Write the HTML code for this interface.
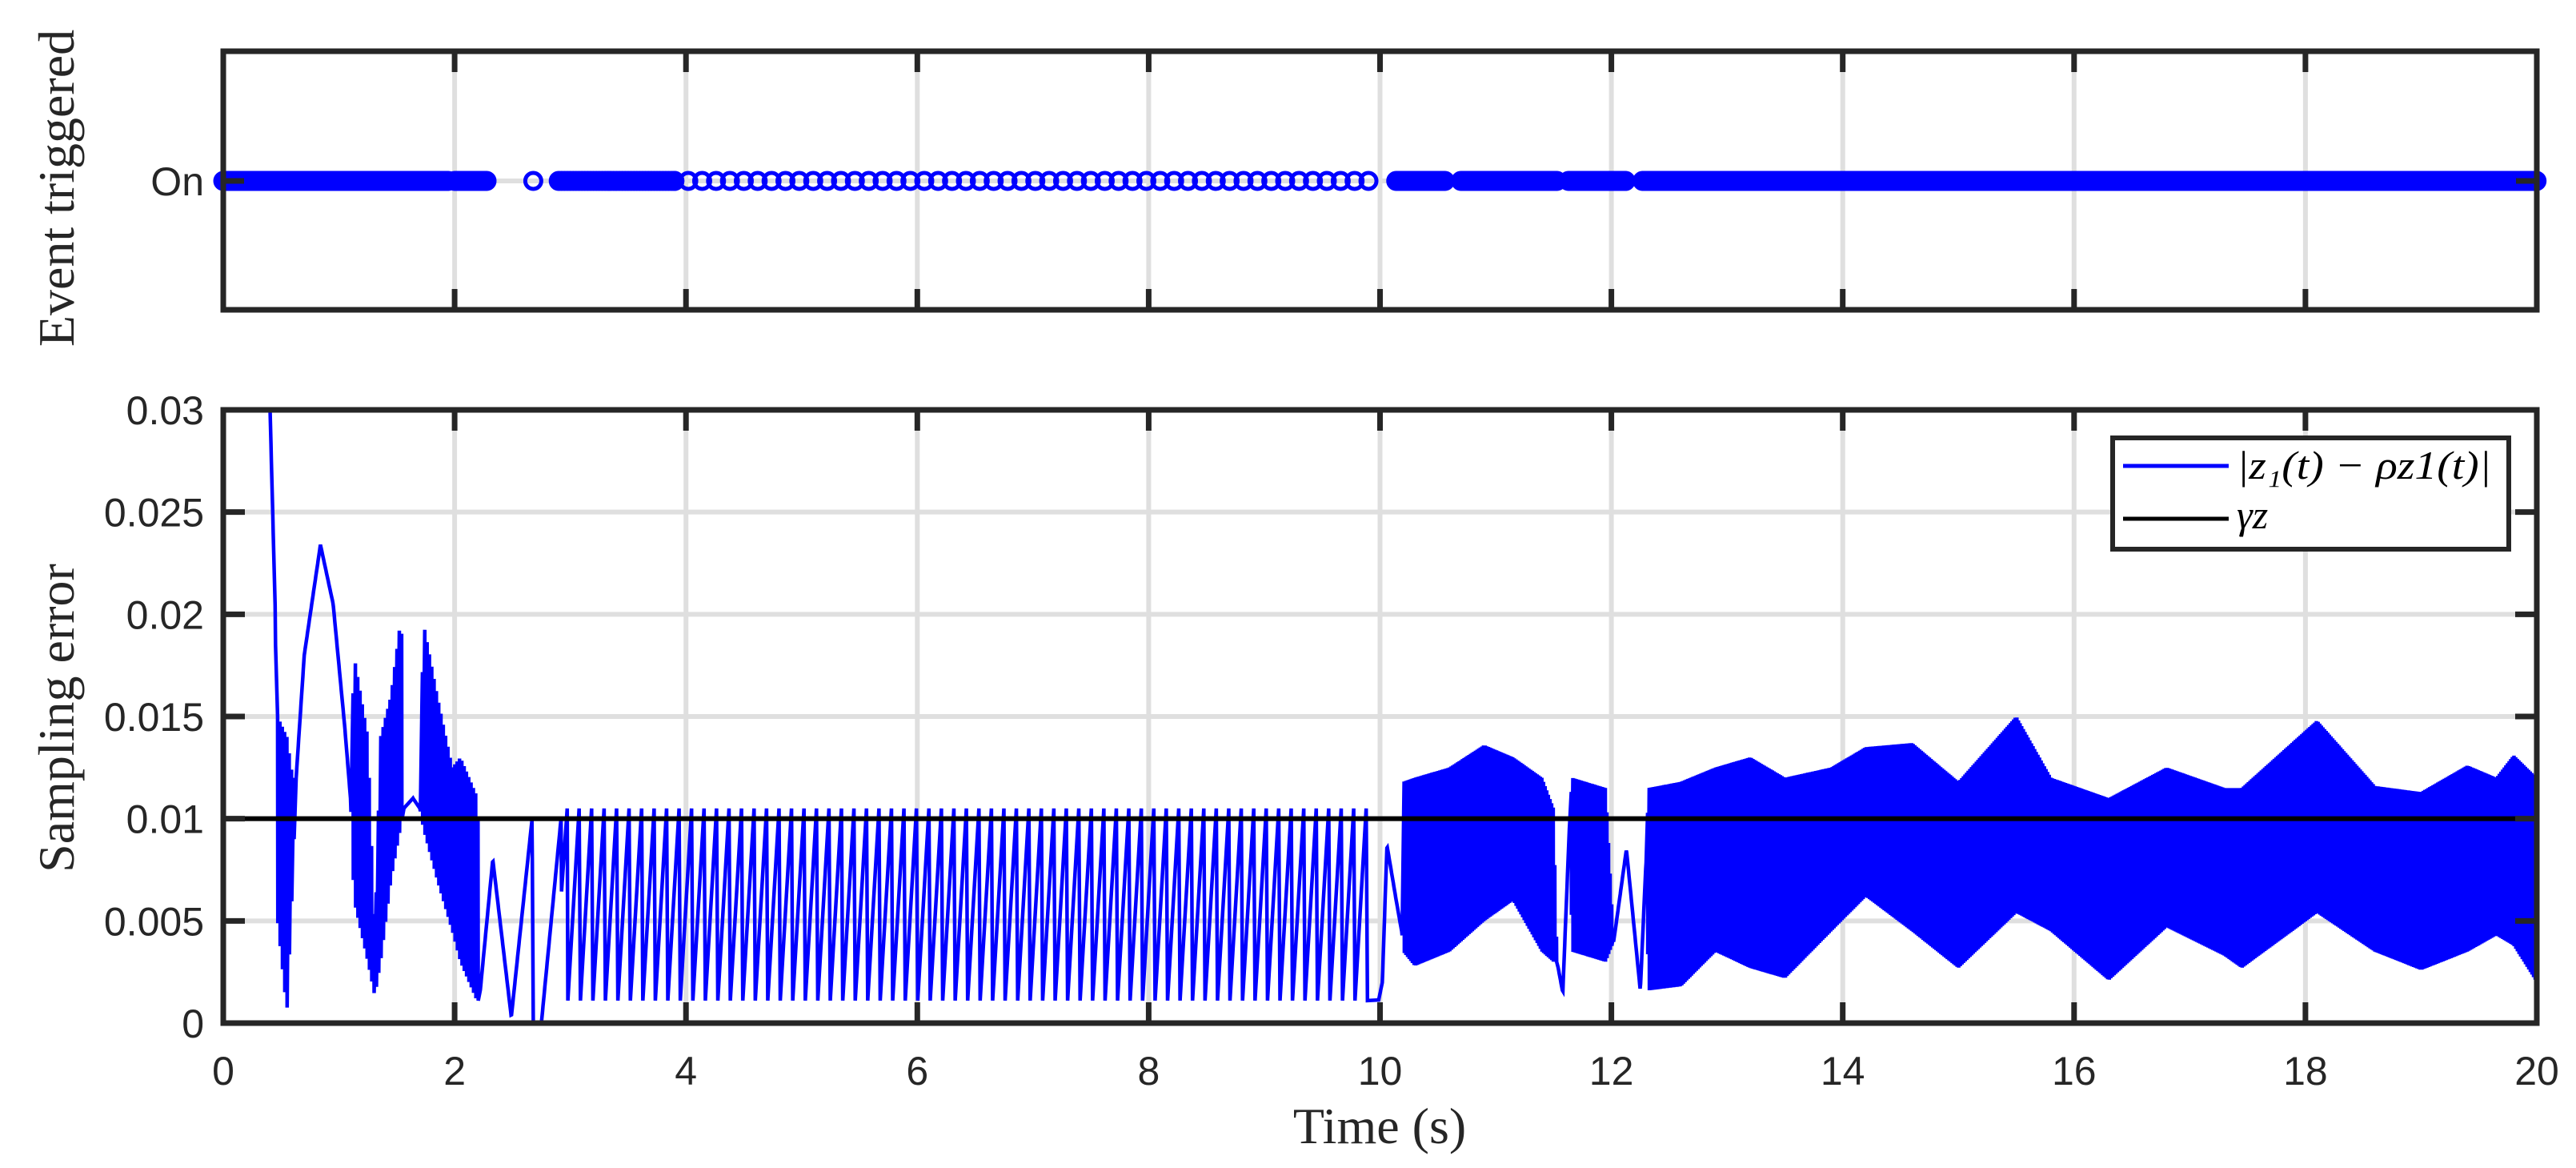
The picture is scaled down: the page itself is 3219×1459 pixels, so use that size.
<!DOCTYPE html>
<html><head><meta charset="utf-8"><style>
html,body{margin:0;padding:0;background:#fff;}
svg{display:block;}
.tick{font-family:"Liberation Sans",sans-serif;font-size:50px;fill:#262626;}
.lab{font-family:"Liberation Serif",serif;font-size:64px;fill:#262626;}
.leg{font-family:"Liberation Serif",serif;font-style:italic;font-size:50px;fill:#000;}
</style></head><body>
<svg id="chart" width="3219" height="1459" viewBox="0 0 3219 1459" xmlns="http://www.w3.org/2000/svg">
<defs><clipPath id="clipB"><rect x="279" y="512" width="2891" height="766"/></clipPath></defs>
<g id="topG"></g>
<g id="botG"></g>
<text class="lab" x="74" y="235" text-anchor="middle" transform="rotate(-90 74 235)" dy="18">Event triggered</text>
<text class="lab" x="74" y="897" text-anchor="middle" transform="rotate(-90 74 897)" dy="18">Sampling error</text>
<text class="lab" x="1724" y="1428" text-anchor="middle">Time (s)</text>
</svg>
<script>
// ---- data ----
const xTicks = [0,2,4,6,8,10,12,14,16,18,20];
const xTickLabels = ["0","2","4","6","8","10","12","14","16","18","20"];
const yTicks = [0,0.005,0.01,0.015,0.02,0.025,0.03];
const yTickLabels = ["0","0.005","0.01","0.015","0.02","0.025","0.03"];
const gammaZ = 0.01;
// event segments: start, end, step (s)
const eventStart = [0.0,2.0,2.68,2.9,3.9,10.14,10.7,11.63,12.27];
const eventEnd   = [1.95,2.28,2.68,3.9,9.93,10.57,11.53,12.13,20.0];
const eventStep  = [0.012,0.012,1,0.025,0.12,0.012,0.012,0.012,0.012];
// error curve knots: time, upper envelope, lower envelope, oscillation period
const errT  = [0.40,0.45,0.47,0.55,0.60,0.63,0.70,0.84,0.95,1.05,1.10,1.13,1.25,1.31,1.36,1.45,1.54,1.56,1.64,1.70,1.73,1.85,1.98,2.05,2.20,2.22,2.33,2.49,2.67,2.68,2.75,2.92,2.93,9.93,9.98,10.02,10.06,10.14,10.19,10.2,10.3,10.6,10.9,11.15,11.4,11.5,11.53,11.58,11.64,11.66,11.95,12.02,12.13,12.25,12.30,12.32,12.6,12.9,13.2,13.5,13.9,14.2,14.6,15.0,15.5,15.8,16.3,16.8,17.3,17.45,18.1,18.6,19.0,19.4,19.65,19.8,20.0];
const errHi = [0.031,0.02,0.015,0.014,0.012,0.012,0.018,0.0234,0.0205,0.0145,0.011,0.018,0.014,0.004,0.014,0.016,0.020,0.0105,0.011,0.0105,0.0196,0.016,0.0125,0.013,0.011,0.0015,0.008,0.0003,0.010,0.0,0.0,0.010,0.0105,0.0105,0.0009,0.002,0.0087,0.006,0.0044,0.0118,0.012,0.0125,0.0136,0.013,0.012,0.0105,0.003,0.0015,0.010,0.012,0.0115,0.004,0.0085,0.0016,0.008,0.0115,0.0118,0.0125,0.013,0.012,0.0125,0.0135,0.0137,0.0118,0.015,0.012,0.011,0.0125,0.0115,0.0115,0.0148,0.0116,0.0113,0.0126,0.012,0.0131,0.012];
const errLo = [0.031,0.02,0.005,0.0005,0.007,0.012,0.018,0.0234,0.0205,0.0145,0.011,0.006,0.003,0.0013,0.003,0.007,0.0098,0.0105,0.011,0.0105,0.0095,0.007,0.0045,0.003,0.001,0.0015,0.008,0.0003,0.010,0.0,0.0,0.010,0.0011,0.0011,0.0009,0.002,0.0087,0.006,0.0044,0.0035,0.0028,0.0035,0.005,0.006,0.0035,0.003,0.003,0.0015,0.010,0.0035,0.003,0.004,0.0085,0.0016,0.008,0.0016,0.0018,0.0035,0.0027,0.0022,0.0045,0.0062,0.0045,0.0027,0.0054,0.0045,0.0021,0.0047,0.0033,0.0027,0.0054,0.0035,0.0026,0.0035,0.0043,0.0038,0.002];
const errPer = [0.02,0.02,0.02,0.02,0.02,0.02,0.02,0.02,0.02,0.02,0.02,0.02,0.02,0.02,0.02,0.02,0.02,0.02,0.02,0.02,0.02,0.02,0.02,0.02,0.02,0.02,0.02,0.02,0.02,0.02,0.02,0.02,0.108,0.108,0.02,0.02,0.02,0.02,0.02,0.014,0.014,0.014,0.014,0.014,0.014,0.014,0.014,0.014,0.014,0.014,0.014,0.014,0.014,0.014,0.014,0.014,0.014,0.014,0.014,0.014,0.014,0.014,0.014,0.014,0.014,0.014,0.014,0.014,0.014,0.014,0.014,0.014,0.014,0.014,0.014,0.014,0.014];

// ---- layout ----
const NS="http://www.w3.org/2000/svg";
const L=279,R=3170,TT=64,TB=387,BT=512,BB=1278,ON=226;
const xs=t=>L+(t-0)/(20-0)*(R-L);
const ys=v=>BB-(v-0)/(0.03-0)*(BB-BT);
function mk(tag,attrs,parent){const e=document.createElementNS(NS,tag);for(const k in attrs)e.setAttribute(k,attrs[k]);parent.appendChild(e);return e;}
const topG=document.getElementById('topG'), botG=document.getElementById('botG');
const AX="#262626", GR="#dfdfdf";

// --- top plot ---
for(let i=0;i<xTicks.length;i++){
  const x=xs(xTicks[i]);
  const g=mk('line',{x1:x,x2:x,y1:TT,y2:TB,stroke:GR,'stroke-width':6},topG);
  
  
}
const hg=mk('line',{x1:L,x2:R,y1:ON,y2:ON,stroke:GR,'stroke-width':6},topG);


for(let s=0;s<eventStart.length;s++){
  for(let t=eventStart[s];t<=eventEnd[s]+1e-9;t+=eventStep[s]){
    const c=mk('circle',{cx:xs(t),cy:ON,r:10,fill:'none',stroke:'#0000ff','stroke-width':5},topG);
    
    
  }
}
for(let i=1;i<xTicks.length-1;i++){
  const x=xs(xTicks[i]);
  mk('line',{x1:x,x2:x,y1:TT,y2:TT+26,stroke:AX,'stroke-width':7},topG);
  mk('line',{x1:x,x2:x,y1:TB,y2:TB-26,stroke:AX,'stroke-width':7},topG);
}
mk('line',{x1:L,x2:L+26,y1:ON,y2:ON,stroke:AX,'stroke-width':7},topG);
mk('line',{x1:R,x2:R-26,y1:ON,y2:ON,stroke:AX,'stroke-width':7},topG);
const tf=mk('rect',{x:L,y:TT,width:R-L,height:TB-TT,fill:'none',stroke:AX,'stroke-width':7},topG);


const onl=mk('text',{x:255,y:ON+18,'text-anchor':'end',class:'tick'},topG);
onl.textContent='On';



// --- bottom plot ---
for(let i=0;i<xTicks.length;i++){
  const x=xs(xTicks[i]);
  const g=mk('line',{x1:x,x2:x,y1:BT,y2:BB,stroke:GR,'stroke-width':6},botG);
  
  
  const lb=mk('text',{x:x,y:BB+77,'text-anchor':'middle',class:'tick'},botG);
  lb.textContent=xTickLabels[i];
  
  
}
for(let i=0;i<yTicks.length;i++){
  const y=ys(yTicks[i]);
  const g=mk('line',{x1:L,x2:R,y1:y,y2:y,stroke:GR,'stroke-width':6},botG);
  
  
  const lb=mk('text',{x:255,y:y+18,'text-anchor':'end',class:'tick'},botG);
  lb.textContent=yTickLabels[i];
  
  
}
// error curve
function interp(arr,t){
  if(t<=errT[0])return arr[0];
  for(let i=1;i<errT.length;i++){if(t<=errT[i]){const f=(t-errT[i-1])/(errT[i]-errT[i-1]);return arr[i-1]+f*(arr[i]-arr[i-1]);}}
  return arr[arr.length-1];
}
const pts=[];
let tc=errT[0];
const tEnd=errT[errT.length-1];
while(tc<tEnd){
  const p=interp(errPer,tc);
  const hi=interp(errHi,tc), lo=interp(errLo,tc);
  if(Math.abs(hi-lo)<1e-6){pts.push([tc,hi]);tc+=0.004;continue;}
  pts.push([tc,lo]);
  const tp=Math.min(tc+p*0.9,tEnd);
  pts.push([tp,interp(errHi,tp)]);
  tc=Math.min(tc+p,tEnd);
}
pts.push([tEnd,interp(errLo,tEnd)]);
let d='';
pts.forEach((q,i)=>{d+=(i?'L':'M')+xs(q[0]).toFixed(1)+','+ys(Math.min(q[1],0.0305)).toFixed(1);});
const pe=mk('path',{d:d,fill:'none',stroke:'#0000ff','stroke-width':4.5,'stroke-linejoin':'miter','clip-path':'url(#clipB)'},botG);


const gl=mk('line',{x1:L,x2:R,y1:ys(gammaZ),y2:ys(gammaZ),stroke:'#000','stroke-width':6},botG);


for(let i=1;i<xTicks.length-1;i++){
  const x=xs(xTicks[i]);
  mk('line',{x1:x,x2:x,y1:BT,y2:BT+26,stroke:AX,'stroke-width':7},botG);
  mk('line',{x1:x,x2:x,y1:BB,y2:BB-26,stroke:AX,'stroke-width':7},botG);
}
for(let i=1;i<yTicks.length-1;i++){
  const y=ys(yTicks[i]);
  mk('line',{x1:L,x2:L+27,y1:y,y2:y,stroke:AX,'stroke-width':7},botG);
  mk('line',{x1:R,x2:R-27,y1:y,y2:y,stroke:AX,'stroke-width':7},botG);
}
const bf=mk('rect',{x:L,y:BT,width:R-L,height:BB-BT,fill:'none',stroke:AX,'stroke-width':7},botG);


// legend
const lg=mk('g',{},botG);


mk('rect',{x:2640,y:547,width:495,height:139,fill:'#fff',stroke:AX,'stroke-width':6},lg);
mk('line',{x1:2653,x2:2785,y1:582,y2:582,stroke:'#0000ff','stroke-width':5},lg);
mk('line',{x1:2653,x2:2785,y1:648,y2:648,stroke:'#000','stroke-width':5},lg);
const t1=mk('text',{x:2795,y:598,class:'leg',textLength:318,lengthAdjust:'spacingAndGlyphs'},lg);
t1.textContent='|z\u2081(t) \u2212 \u03C1z1(t)|';


const t2=mk('text',{x:2795,y:660,class:'leg'},lg);
t2.textContent='\u03B3z';


</script>
</body></html>
